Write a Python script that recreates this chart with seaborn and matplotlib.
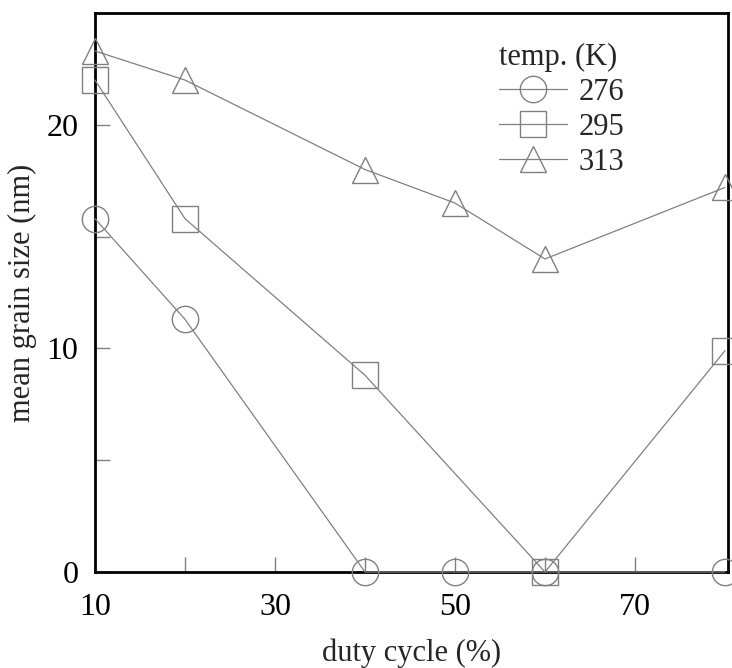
import matplotlib
matplotlib.use("Agg")
import matplotlib.pyplot as plt
import seaborn as sns
import pandas as pd

duty = [10, 20, 40, 50, 60, 80]
temps = ["276", "295", "313"]
g276 = [15.8, 11.3, 0, 0, 0, 0]
g295 = [22.0, 15.8, 8.8, None, 0, 9.9]
g313 = [23.3, 22.0, 18.0, 16.5, 14.0, 17.2]
markers = ["o", "s", "^"]

sns.set_theme(style="white")
plt.rcParams["font.family"] = ["Liberation Serif", "DejaVu Serif"]

rows = []
for t, vals in zip(temps, [g276, g295, g313]):
    for d, v in zip(duty, vals):
        if v is not None:
            rows.append({"duty": d, "size": v, "temp": t})
df = pd.DataFrame(rows)

fig = plt.figure(figsize=(7.32, 6.68), dpi=100)
ax = fig.add_axes([95/732, 96/668, 633/732, 559/668])

for t, m in zip(temps, markers):
    sub = df[df["temp"] == t]
    sns.lineplot(data=sub, x="duty", y="size", ax=ax, color="#808080", lw=0.9,
                 marker=m, markersize=19, markerfacecolor="none",
                 markeredgecolor="#808080", markeredgewidth=1.0, clip_on=False,
                 label=t, zorder=3)

ax.set_xlim(10, 80.33)
ax.set_ylim(0, 25)
ax.set_xticks([10, 20, 30, 40, 50, 60, 70])
ax.set_xticklabels(["10", "", "30", "", "50", "", "70"])
ax.set_yticks([0, 5, 10, 15, 20])
ax.set_yticklabels(["0", "", "10", "", "20"])
ax.tick_params(direction="in", length=11, width=1, color="#808080",
               labelsize=23, labelcolor="black", left=True, bottom=True)
ax.tick_params(axis="x", pad=15)
ax.tick_params(axis="y", pad=12)
for s in ax.spines.values():
    s.set_linewidth(2)
    s.set_color("black")
ax.set_xlabel("duty cycle (%)", fontsize=22, labelpad=12)
ax.set_ylabel("mean grain size (nm)", fontsize=22, labelpad=7)

leg = ax.legend(title="temp. (K)", loc="upper left", bbox_to_anchor=(0.605, 0.985),
                frameon=False, fontsize=22, title_fontsize=22, handlelength=2.2,
                handletextpad=0.38, labelspacing=0.2, borderpad=0.2)
leg._legend_box.align = "left"

fig.savefig("out.png", dpi=100)
